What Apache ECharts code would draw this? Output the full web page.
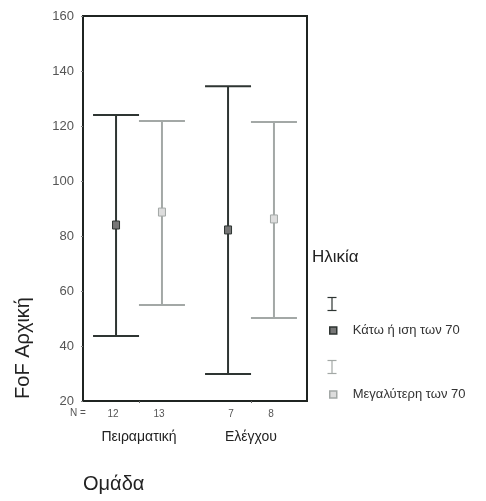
<!DOCTYPE html>
<html>
<head>
<meta charset="utf-8">
<script src="https://cdn.jsdelivr.net/npm/echarts@6/dist/echarts.min.js"></script>
<style>
  html, body { margin: 0; padding: 0; background: #fff; }
  #chart { width: 486px; height: 501px; }
</style>
</head>
<body>
<div id="chart"></div>
<script>
// groups on the x axis
var groups = ['Πειραματική', 'Ελέγχου']
var yTicks = [20, 40, 60, 80, 100, 120, 140, 160]

// Ηλικία: Κάτω ή ιση των 70
var youngLow = [43.6, 29.8]
var youngMean = [84, 82.2]
var youngHigh = [124, 134.5]
var youngN = [12, 7]

// Ηλικία: Μεγαλύτερη των 70
var oldLow = [54.9, 50.2]
var oldMean = [88.7, 86.2]
var oldHigh = [121.8, 121.5]
var oldN = [13, 8]

var FONT = 'Liberation Sans, Arial, sans-serif'
var DARK = '#2e3532'
var LIGHT = '#a3a8a6'

function makeData(low, mean, high, n) {
  return groups.map(function (g, i) {
    return [i, low[i], mean[i], high[i], n[i]]
  })
}

function errorBar(side, color, markFill) {
  return function (params, api) {
    var band = api.size([1, 0])[0]
    var off = side * band * 0.205
    var lo = api.coord([api.value(0), api.value(1)])
    var mid = api.coord([api.value(0), api.value(2)])
    var hi = api.coord([api.value(0), api.value(3)])
    var bottom = api.coord([api.value(0), 20])
    var x = lo[0] + off
    var cap = 23
    var line = { stroke: color, lineWidth: 2 }
    return {
      type: 'group',
      children: [
        { type: 'line', shape: { x1: x, y1: hi[1], x2: x, y2: lo[1] }, style: line },
        { type: 'line', shape: { x1: x - cap, y1: hi[1], x2: x + cap, y2: hi[1] }, style: line },
        { type: 'line', shape: { x1: x - cap, y1: lo[1], x2: x + cap, y2: lo[1] }, style: line },
        { type: 'rect', shape: { x: x - 3.5, y: mid[1] - 4, width: 7, height: 8 },
          style: { fill: markFill, stroke: color, lineWidth: 1 } },
        { type: 'text', x: x - 3 + (side < 0 && params.dataIndex === 1 ? 6 : 0), y: bottom[1] + 13,
          style: { text: String(api.value(4)), fill: '#555', font: '10px ' + FONT, align: 'center', verticalAlign: 'middle' } }
      ]
    }
  }
}

var chart = echarts.init(document.getElementById('chart'))
chart.setOption({
  animation: false,
  textStyle: { fontFamily: FONT },
  grid: {
    left: 83, right: 179, top: 16, bottom: 100,
    show: true, borderColor: '#1f2421', borderWidth: 2
  },
  xAxis: {
    type: 'category',
    data: groups,
    axisLine: { lineStyle: { color: '#1f2421', width: 2 } },
    axisTick: { show: true, alignWithLabel: true, length: 2, lineStyle: { color: '#666' } },
    axisLabel: { margin: 29, fontSize: 14, color: '#222', fontFamily: FONT },
    splitLine: { show: false }
  },
  yAxis: {
    type: 'value',
    min: 20, max: 160, interval: 20,
    axisLine: { show: true, lineStyle: { color: '#1f2421', width: 2 } },
    axisTick: { show: true, length: 2, lineStyle: { color: '#888' } },
    axisLabel: { fontSize: 13, color: '#555', margin: 9, fontFamily: FONT },
    splitLine: { show: false }
  },
  legend: {
    orient: 'vertical',
    left: 324, top: 319,
    itemWidth: 7, itemHeight: 7,
    itemGap: 51,
    textStyle: { fontSize: 13, color: '#333', fontFamily: FONT, padding: [0, 0, 0, 11] },
    data: [
      { name: 'Κάτω ή ιση των 70', icon: 'rect', itemStyle: { color: '#777', borderColor: DARK, borderWidth: 1.5 } },
      { name: 'Μεγαλύτερη των 70', icon: 'rect', itemStyle: { color: '#ddd', borderColor: LIGHT, borderWidth: 1.5 } }
    ]
  },
  graphic: [
    { type: 'text', left: 312, top: 249, style: { text: 'Ηλικία', font: '17px ' + FONT, fill: '#222' } },
    { type: 'group', left: 325, top: 295, children: [
      { type: 'line', shape: { x1: 0, y1: 0, x2: 9, y2: 0 }, style: { stroke: DARK, lineWidth: 1.2 } },
      { type: 'line', shape: { x1: 4.5, y1: 0, x2: 4.5, y2: 13 }, style: { stroke: DARK, lineWidth: 1.2 } },
      { type: 'line', shape: { x1: 0, y1: 13, x2: 9, y2: 13 }, style: { stroke: DARK, lineWidth: 1.2 } }
    ] },
    { type: 'group', left: 325, top: 358, children: [
      { type: 'line', shape: { x1: 0, y1: 0, x2: 9, y2: 0 }, style: { stroke: LIGHT, lineWidth: 1.2 } },
      { type: 'line', shape: { x1: 4.5, y1: 0, x2: 4.5, y2: 13 }, style: { stroke: LIGHT, lineWidth: 1.2 } },
      { type: 'line', shape: { x1: 0, y1: 13, x2: 9, y2: 13 }, style: { stroke: LIGHT, lineWidth: 1.2 } }
    ] },
    { type: 'text', left: 70, top: 408, style: { text: 'N =', font: '10px ' + FONT, fill: '#555' } },
    { type: 'text', left: 83, top: 474, style: { text: 'Ομάδα', font: '20px ' + FONT, fill: '#222' } },
    { type: 'text', x: 23, y: 348, rotation: Math.PI / 2,
      style: { text: 'FoF Αρχική', font: '20px ' + FONT, fill: '#222', align: 'center', verticalAlign: 'middle' } }
  ],
  series: [
    {
      name: 'Κάτω ή ιση των 70',
      type: 'custom',
      renderItem: errorBar(-1, DARK, '#777'),
      itemStyle: { color: '#777' },
      encode: { x: 0, y: [1, 2, 3] },
      data: makeData(youngLow, youngMean, youngHigh, youngN),
      z: 3
    },
    {
      name: 'Μεγαλύτερη των 70',
      type: 'custom',
      renderItem: errorBar(1, LIGHT, '#ddd'),
      itemStyle: { color: '#ddd' },
      encode: { x: 0, y: [1, 2, 3] },
      data: makeData(oldLow, oldMean, oldHigh, oldN),
      z: 2
    }
  ]
})
</script>
</body>
</html>
